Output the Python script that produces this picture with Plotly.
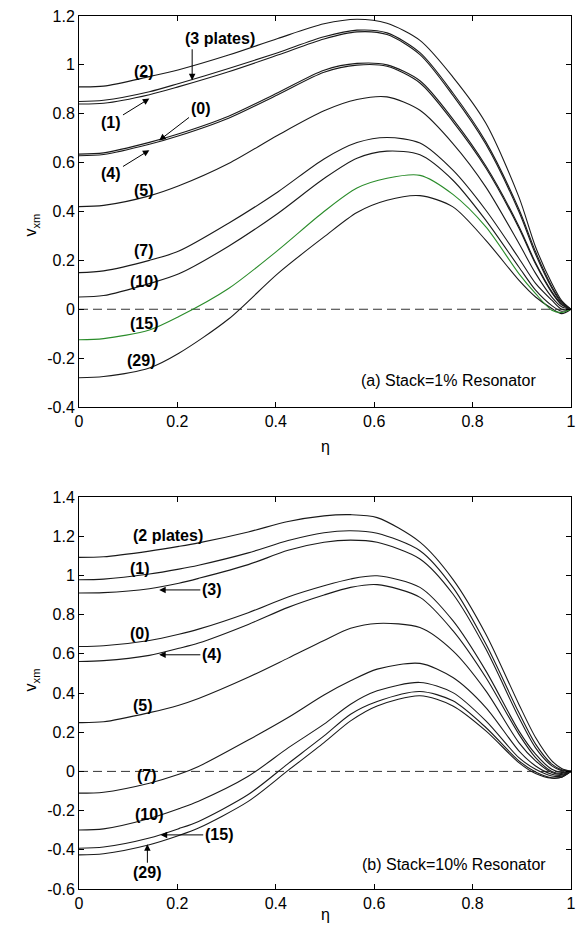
import plotly.graph_objects as go

# ---------------- data: panel (a) Stack = 1% resonator ----------------
eta_a = [0, 0.05, 0.143, 0.203, 0.304, 0.404, 0.498, 0.565, 0.626, 0.693, 0.76, 0.827, 0.894, 0.928, 0.961, 0.981, 1.0]
a_2 = [0.91, 0.913, 0.952, 0.98, 1.04, 1.108, 1.168, 1.187, 1.17, 1.10, 0.95, 0.761, 0.46, 0.255, 0.106, 0.035, 0]
a_3 = [0.85, 0.855, 0.89, 0.924, 0.985, 1.05, 1.115, 1.142, 1.131, 1.05, 0.885, 0.685, 0.41, 0.235, 0.093, 0.03, 0]
a_1 = [0.84, 0.843, 0.878, 0.911, 0.972, 1.04, 1.106, 1.135, 1.124, 1.042, 0.875, 0.675, 0.40, 0.225, 0.087, 0.025, 0]
a_0 = [0.635, 0.64, 0.683, 0.718, 0.79, 0.886, 0.978, 1.006, 1.0, 0.935, 0.778, 0.586, 0.34, 0.19, 0.072, 0.02, 0]
a_4 = [0.628, 0.633, 0.675, 0.710, 0.782, 0.878, 0.970, 0.999, 0.994, 0.926, 0.768, 0.578, 0.333, 0.185, 0.068, 0.018, 0]
a_5 = [0.42, 0.425, 0.464, 0.505, 0.596, 0.712, 0.812, 0.858, 0.869, 0.814, 0.678, 0.50, 0.27, 0.147, 0.05, 0.01, 0]
a_7 = [0.15, 0.157, 0.2, 0.238, 0.352, 0.48, 0.615, 0.682, 0.703, 0.680, 0.569, 0.405, 0.209, 0.106, 0.037, 0.0, 0]
a_10 = [0.05, 0.056, 0.105, 0.145, 0.258, 0.392, 0.535, 0.618, 0.647, 0.632, 0.528, 0.364, 0.173, 0.078, 0.015, -0.008, 0]
a_15 = [-0.125, -0.12, -0.085, -0.03, 0.085, 0.241, 0.400, 0.496, 0.536, 0.548, 0.47, 0.337, 0.146, 0.064, -0.004, -0.013, 0]
a_29 = [-0.28, -0.275, -0.24, -0.18, -0.04, 0.146, 0.296, 0.396, 0.446, 0.465, 0.419, 0.282, 0.119, 0.05, 0.003, -0.018, 0]

# ---------------- data: panel (b) Stack = 10% resonator ----------------
eta_b = [0, 0.05, 0.143, 0.203, 0.243, 0.344, 0.425, 0.498, 0.552, 0.606, 0.693, 0.76, 0.827, 0.894, 0.928, 0.961, 0.981, 1.0]
b_2 = [1.092, 1.095, 1.124, 1.148, 1.166, 1.222, 1.275, 1.304, 1.31, 1.295, 1.17, 0.98, 0.70, 0.343, 0.173, 0.054, 0.015, 0]
b_1 = [0.978, 0.981, 1.007, 1.032, 1.052, 1.115, 1.178, 1.218, 1.228, 1.215, 1.126, 0.939, 0.65, 0.30, 0.139, 0.037, 0.008, 0]
b_3 = [0.91, 0.912, 0.932, 0.96, 0.985, 1.055, 1.128, 1.169, 1.18, 1.169, 1.084, 0.905, 0.624, 0.275, 0.12, 0.028, 0.004, 0]
b_0 = [0.637, 0.641, 0.668, 0.700, 0.726, 0.81, 0.89, 0.947, 0.982, 0.998, 0.939, 0.769, 0.513, 0.207, 0.088, 0.011, -0.005, 0]
b_4 = [0.561, 0.565, 0.592, 0.628, 0.655, 0.75, 0.837, 0.9, 0.939, 0.953, 0.888, 0.718, 0.479, 0.19, 0.07, 0.0, -0.01, 0]
b_5 = [0.249, 0.253, 0.30, 0.338, 0.372, 0.48, 0.578, 0.668, 0.73, 0.755, 0.734, 0.615, 0.411, 0.147, 0.054, -0.006, -0.015, 0]
b_7 = [-0.111, -0.106, -0.06, -0.015, 0.025, 0.16, 0.275, 0.39, 0.462, 0.522, 0.551, 0.479, 0.326, 0.105, 0.028, -0.014, -0.02, 0]
b_10 = [-0.299, -0.293, -0.24, -0.19, -0.152, -0.025, 0.12, 0.241, 0.343, 0.411, 0.454, 0.402, 0.258, 0.07, 0.011, -0.023, -0.025, 0]
b_15 = [-0.392, -0.386, -0.34, -0.292, -0.255, -0.118, 0.04, 0.181, 0.292, 0.357, 0.408, 0.36, 0.224, 0.054, -0.003, -0.032, -0.03, 0]
b_29 = [-0.426, -0.42, -0.374, -0.327, -0.289, -0.153, 0.005, 0.147, 0.258, 0.334, 0.386, 0.334, 0.207, 0.045, -0.011, -0.035, -0.03, 0]

x_ticks = [0, 0.2, 0.4, 0.6, 0.8, 1.0]
x_ticktext = ["0", "0.2", "0.4", "0.6", "0.8", "1"]
ya_ticks = [-0.4, -0.2, 0, 0.2, 0.4, 0.6, 0.8, 1.0, 1.2]
ya_ticktext = ["-0.4", "-0.2", "0", "0.2", "0.4", "0.6", "0.8", "1", "1.2"]
yb_ticks = [-0.6, -0.4, -0.2, 0, 0.2, 0.4, 0.6, 0.8, 1.0, 1.2, 1.4]
yb_ticktext = ["-0.6", "-0.4", "-0.2", "0", "0.2", "0.4", "0.6", "0.8", "1", "1.2", "1.4"]

BLACK = "#1a1a1a"
GREEN = "#2a8c2a"
FONT = "Liberation Sans, Arial, sans-serif"

fig = go.Figure()

def add_curve(x, y, xa, ya, color=BLACK):
    fig.add_trace(go.Scatter(x=x, y=y, xaxis=xa, yaxis=ya, mode="lines",
                             line=dict(color=color, width=1.1, shape="spline", smoothing=0.8),
                             showlegend=False, hoverinfo="skip"))

# zero dashed lines
for xa, ya in (("x", "y"), ("x2", "y2")):
    fig.add_trace(go.Scatter(x=[0, 1], y=[0, 0], xaxis=xa, yaxis=ya, mode="lines",
                             line=dict(color="#333333", width=1, dash="9px,5px"),
                             showlegend=False, hoverinfo="skip"))

for series in (a_2, a_3, a_1, a_0, a_4, a_5, a_7, a_10, a_29):
    add_curve(eta_a, series, "x", "y")
add_curve(eta_a, a_15, "x", "y", GREEN)

for series in (b_2, b_1, b_3, b_0, b_4, b_5, b_7, b_10, b_15, b_29):
    add_curve(eta_b, series, "x2", "y2")

axis_common = dict(showgrid=False, zeroline=False, showline=True, linecolor="black", linewidth=1,
                   mirror="ticks", ticks="inside", ticklen=5, tickcolor="black",
                   ticklabeloverflow="allow",
                   tickfont=dict(family=FONT, size=16, color="black"))

fig.update_layout(
    width=581, height=934,
    margin=dict(l=79, r=5, t=16, b=45),
    paper_bgcolor="white", plot_bgcolor="white",
    xaxis=dict(domain=[0, 1], range=[0, 1], anchor="y", tickvals=x_ticks, ticktext=x_ticktext, **axis_common),
    yaxis=dict(domain=[0.5521, 1], range=[-0.4, 1.2], anchor="x", tickvals=ya_ticks, ticktext=ya_ticktext, **axis_common),
    xaxis2=dict(domain=[0, 1], range=[0, 1], anchor="y2", tickvals=x_ticks, ticktext=x_ticktext, **axis_common),
    yaxis2=dict(domain=[0, 0.449], range=[-0.6, 1.4], anchor="x2", tickvals=yb_ticks, ticktext=yb_ticktext, **axis_common),
)

ann = []
bold = dict(family=FONT, size=16, color="black")
arrow_style = dict(showarrow=True, arrowhead=2, arrowsize=1.3, arrowwidth=1, arrowcolor="black")

def label(text, x, y, xr="x", yr="y"):
    ann.append(dict(text="<b>%s</b>" % text, x=x, y=y, xref=xr, yref=yr, showarrow=False, font=bold))

def label_arrow(text, tx, ty, lx, ly, xr="x", yr="y"):
    # label centred at (lx, ly) with an arrow pointing to (tx, ty)
    ann.append(dict(text="<b>%s</b>" % text, x=tx, y=ty, ax=lx, ay=ly, xref=xr, yref=yr,
                    axref=xr, ayref=yr, font=bold, **arrow_style))

# panel (a) labels
label("(3 plates)", 0.287, 1.108)
ann.append(dict(text="", x=0.230, y=0.937, ax=0.230, ay=1.07, xref="x", yref="y",
                axref="x", ayref="y", **arrow_style))
label("(2)", 0.133, 0.971)
label_arrow("(1)", 0.143, 0.862, 0.066, 0.766)
label_arrow("(0)", 0.163, 0.691, 0.247, 0.821)
label_arrow("(4)", 0.143, 0.651, 0.066, 0.555)
label("(5)", 0.133, 0.487)
label("(7)", 0.133, 0.241)
label("(10)", 0.133, 0.115)
label("(15)", 0.133, -0.059)
label("(29)", 0.126, -0.209)
ann.append(dict(text="(a) Stack=1% Resonator", x=0.751, y=-0.29, xref="x", yref="y", showarrow=False,
                font=dict(family=FONT, size=16, color="black")))

# panel (b) labels
label("(2 plates)", 0.18, 1.203, "x2", "y2")
label("(1)", 0.123, 1.033, "x2", "y2")
label_arrow("(3)", 0.163, 0.926, 0.27, 0.926, "x2", "y2")
label("(0)", 0.123, 0.704, "x2", "y2")
label_arrow("(4)", 0.163, 0.595, 0.27, 0.595, "x2", "y2")
label("(5)", 0.131, 0.335, "x2", "y2")
label("(7)", 0.139, -0.023, "x2", "y2")
label("(10)", 0.143, -0.219, "x2", "y2")
label_arrow("(15)", 0.166, -0.324, 0.284, -0.324, "x2", "y2")
label_arrow("(29)", 0.139, -0.372, 0.139, -0.517, "x2", "y2")
ann.append(dict(text="(b) Stack=10% Resonator", x=0.762, y=-0.474, xref="x2", yref="y2", showarrow=False,
                font=dict(family=FONT, size=16, color="black")))

# axis titles
axis_font = dict(family=FONT, size=16, color="black")
ann.append(dict(text="η", x=0.5, y=0.5066, xref="paper", yref="paper", showarrow=False, font=axis_font))
ann.append(dict(text="η", x=0.5, y=-0.0412, xref="paper", yref="paper", showarrow=False, font=axis_font))
ann.append(dict(text="v<sub>xm</sub>", x=-0.119, y=0.7766, xref="paper", yref="paper", showarrow=False,
                textangle=-90, font=axis_font))
ann.append(dict(text="v<sub>xm</sub>", x=-0.119, y=0.2245, xref="paper", yref="paper", showarrow=False,
                textangle=-90, font=axis_font))

fig.update_layout(annotations=ann)
# remove the browser's default 8px body margin so the figure fills the 581x934 window exactly
fig.write_html("out.html",
               config={"displayModeBar": False},
               post_script="document.body.style.margin='0';document.body.style.overflow='hidden';")
